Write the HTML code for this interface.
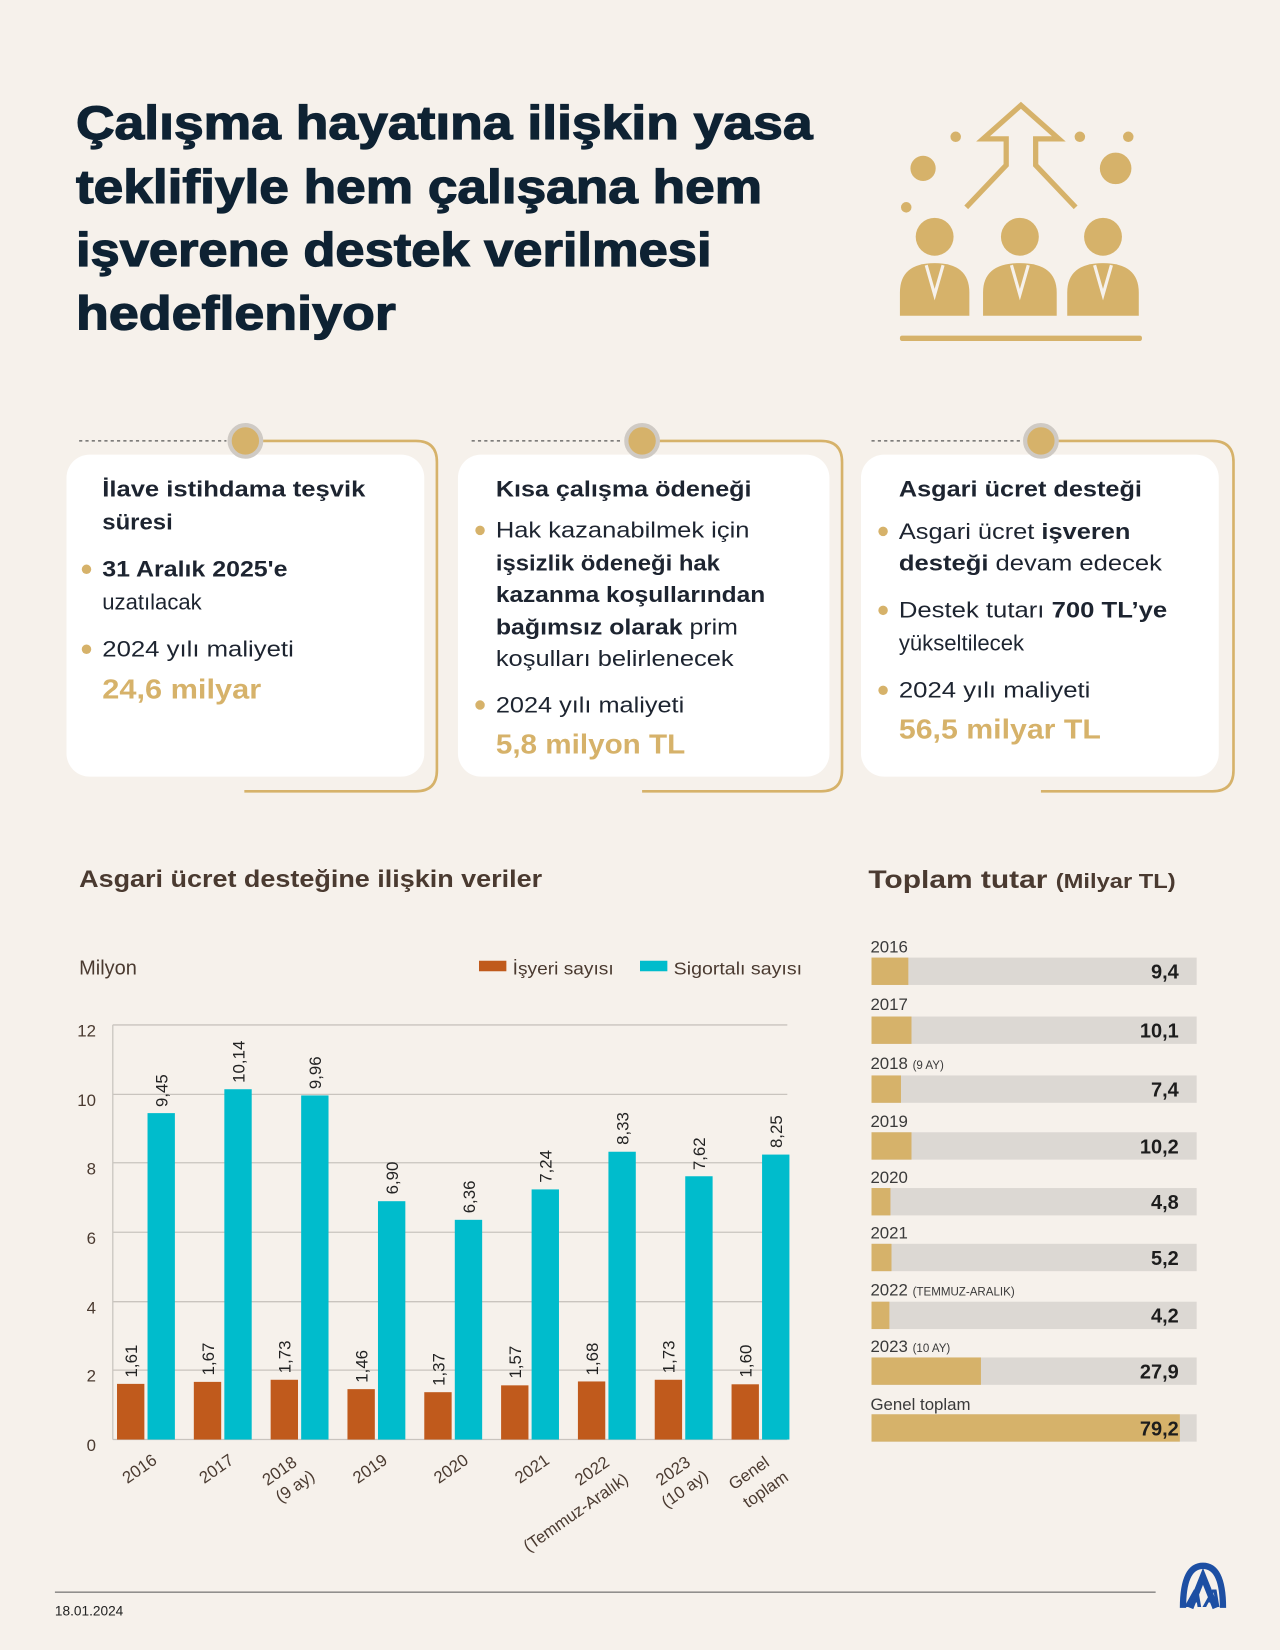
<!DOCTYPE html>
<html><head><meta charset="utf-8"><style>
html,body{margin:0;padding:0;background:#f6f1eb}
svg{display:block}
text{font-family:"Liberation Sans",sans-serif}
</style></head><body>
<svg width="1280" height="1650" viewBox="0 0 1216 1568" xmlns="http://www.w3.org/2000/svg">
<rect width="1216" height="1568" fill="#f6f1eb"/>
<g font-weight="bold" font-size="45" fill="#0e2233" stroke="#0e2233" stroke-width="1.2" lengthAdjust="spacingAndGlyphs">
<text x="72" y="132" textLength="700" lengthAdjust="spacingAndGlyphs">Çalışma hayatına ilişkin yasa</text>
<text x="72" y="193" textLength="652" lengthAdjust="spacingAndGlyphs">teklifiyle hem çalışana hem</text>
<text x="72" y="253" textLength="604" lengthAdjust="spacingAndGlyphs">işverene destek verilmesi</text>
<text x="72" y="313" textLength="304" lengthAdjust="spacingAndGlyphs">hedefleniyor</text>
</g>
<!-- icon -->
<g fill="#d6b26a" stroke="none">
<circle cx="877" cy="160" r="12"/><circle cx="1060" cy="160" r="15"/>
<circle cx="908" cy="130" r="5"/><circle cx="1026" cy="130" r="5"/><circle cx="1072" cy="130" r="5"/><circle cx="861" cy="197" r="5"/>
<circle cx="888" cy="225" r="18"/><circle cx="969" cy="225" r="18"/><circle cx="1048" cy="225" r="18"/>
<path d="M855 300 v-22 q0-28 33-28 q33 0 33 28 v22z"/>
<path d="M934 300 v-22 q0-28 35-28 q35 0 35 28 v22z"/>
<path d="M1014 300 v-22 q0-28 34-28 q34 0 34 28 v22z"/>
<rect x="855" y="319" width="230" height="5" rx="2"/>
</g>
<g fill="none" stroke="#f6f1eb" stroke-width="3"><path d="M880 252 l8 28 l8-28 M961 252 l8 28 l8-28 M1040 252 l8 28 l8-28"/></g>
<path d="M918 197 l38-40 v-25 h-22 l36-32 l36 32 h-22 v25 l38 40" fill="none" stroke="#d6b26a" stroke-width="5"/>
<!-- cards -->
<g>
<g fill="none" stroke="#d6b26a" stroke-width="2.5">
<path d="M233 419 H395 Q415 419 415 439 V732 Q415 752 395 752 H232"/>
<path d="M610 419 H780 Q800 419 800 439 V732 Q800 752 780 752 H610"/>
<path d="M989 419 H1152 Q1172 419 1172 439 V732 Q1172 752 1152 752 H989"/>
</g>
<g stroke="#555" stroke-width="1.2" stroke-dasharray="3 3"><line x1="75" y1="419" x2="215" y2="419"/><line x1="448" y1="419" x2="592" y2="419"/><line x1="828" y1="419" x2="971" y2="419"/></g>
<rect x="63" y="432" width="340" height="306" rx="22" fill="#fff"/>
<rect x="435" y="432" width="353" height="306" rx="22" fill="#fff"/>
<rect x="818" y="432" width="340" height="306" rx="22" fill="#fff"/>
<g fill="#d6b26a" stroke="#cfcac4" stroke-width="4"><circle cx="233" cy="419" r="15"/><circle cx="610" cy="419" r="15"/><circle cx="989" cy="419" r="15"/></g>
</g>
<g font-size="21" fill="#1d2430">
<text x="97" y="472" font-weight="bold" textLength="250" lengthAdjust="spacingAndGlyphs">İlave istihdama teşvik</text>
<text x="97" y="503" font-weight="bold" textLength="67" lengthAdjust="spacingAndGlyphs">süresi</text>
<text x="97" y="548" font-weight="bold" textLength="176" lengthAdjust="spacingAndGlyphs">31 Aralık 2025'e</text>
<text x="97" y="579">uzatılacak</text>
<text x="97" y="624" textLength="182" lengthAdjust="spacingAndGlyphs">2024 yılı maliyeti</text>
<text x="97" y="664" font-weight="bold" font-size="26" fill="#d6b26a" textLength="151" lengthAdjust="spacingAndGlyphs">24,6 milyar</text>
<text x="471" y="472" font-weight="bold" textLength="243" lengthAdjust="spacingAndGlyphs">Kısa çalışma ödeneği</text>
<text x="471" y="511" textLength="241" lengthAdjust="spacingAndGlyphs">Hak kazanabilmek için</text>
<text x="471" y="542" font-weight="bold" textLength="213" lengthAdjust="spacingAndGlyphs">işsizlik ödeneği hak</text>
<text x="471" y="572" font-weight="bold" textLength="256" lengthAdjust="spacingAndGlyphs">kazanma koşullarından</text>
<text x="471" y="603" textLength="230" lengthAdjust="spacingAndGlyphs"><tspan font-weight="bold">bağımsız olarak</tspan> prim</text>
<text x="471" y="633" textLength="226" lengthAdjust="spacingAndGlyphs">koşulları belirlenecek</text>
<text x="471" y="677" textLength="179" lengthAdjust="spacingAndGlyphs">2024 yılı maliyeti</text>
<text x="471" y="716" font-weight="bold" font-size="26" fill="#d6b26a" textLength="180" lengthAdjust="spacingAndGlyphs">5,8 milyon TL</text>
<text x="854" y="472" font-weight="bold" textLength="231" lengthAdjust="spacingAndGlyphs">Asgari ücret desteği</text>
<text x="854" y="512" textLength="220" lengthAdjust="spacingAndGlyphs">Asgari ücret <tspan font-weight="bold">işveren</tspan></text>
<text x="854" y="542" textLength="250" lengthAdjust="spacingAndGlyphs"><tspan font-weight="bold">desteği</tspan> devam edecek</text>
<text x="854" y="587" textLength="255" lengthAdjust="spacingAndGlyphs">Destek tutarı <tspan font-weight="bold">700 TL’ye</tspan></text>
<text x="854" y="618">yükseltilecek</text>
<text x="854" y="663" textLength="182" lengthAdjust="spacingAndGlyphs">2024 yılı maliyeti</text>
<text x="854" y="702" font-weight="bold" font-size="26" fill="#d6b26a" textLength="192" lengthAdjust="spacingAndGlyphs">56,5 milyar TL</text>
</g>
<g fill="#d6b26a"><circle cx="82" cy="541" r="4.5"/><circle cx="82" cy="617" r="4.5"/><circle cx="456" cy="504" r="4.5"/><circle cx="456" cy="670" r="4.5"/><circle cx="839" cy="505" r="4.5"/><circle cx="839" cy="580" r="4.5"/><circle cx="839" cy="656" r="4.5"/></g>
<!-- chart -->
<text x="75" y="843" font-size="23" font-weight="bold" fill="#4a3a30" textLength="440" lengthAdjust="spacingAndGlyphs">Asgari ücret desteğine ilişkin veriler</text>
<text x="75" y="926" font-size="19" fill="#4a3a30">Milyon</text>
<rect x="455" y="913" width="26" height="10" fill="#c05a1c"/><text x="487" y="926" font-size="17" fill="#4a3a30" textLength="96" lengthAdjust="spacingAndGlyphs">İşyeri sayısı</text>
<rect x="608" y="913" width="26" height="10" fill="#00bccc"/><text x="640" y="926" font-size="17" fill="#4a3a30" textLength="122" lengthAdjust="spacingAndGlyphs">Sigortalı sayısı</text>
<g stroke="#c9c4be" stroke-width="1.2">
<line x1="107" y1="974" x2="748" y2="974"/><line x1="107" y1="1040" x2="748" y2="1040"/><line x1="107" y1="1105" x2="748" y2="1105"/><line x1="107" y1="1171" x2="748" y2="1171"/><line x1="107" y1="1237" x2="748" y2="1237"/><line x1="107" y1="1302" x2="748" y2="1302"/><line x1="107" y1="1368" x2="748" y2="1368"/><line x1="107" y1="974" x2="107" y2="1368"/>
</g>
<g font-size="16" fill="#4a3a30" text-anchor="end">
<text x="91" y="985">12</text><text x="91" y="1051">10</text><text x="91" y="1116">8</text><text x="91" y="1182">6</text><text x="91" y="1248">4</text><text x="91" y="1313">2</text><text x="91" y="1379">0</text>
</g>
<g fill="#c05a1c">
<rect x="111" y="1315.1" width="26" height="52.9"/><rect x="184" y="1313.2" width="26" height="54.8"/><rect x="257" y="1311.2" width="26" height="56.8"/><rect x="330" y="1320.1" width="26" height="47.9"/><rect x="403" y="1323" width="26" height="45"/><rect x="476" y="1316.5" width="26" height="51.5"/><rect x="549" y="1312.8" width="26" height="55.2"/><rect x="622" y="1311.2" width="26" height="56.8"/><rect x="695" y="1315.5" width="26" height="52.5"/>
</g>
<g fill="#00bccc">
<rect x="140" y="1057.8" width="26" height="310.2"/><rect x="213" y="1035.1" width="26" height="332.9"/><rect x="286" y="1041" width="26" height="327"/><rect x="359" y="1141.5" width="26" height="226.5"/><rect x="432" y="1159.2" width="26" height="208.8"/><rect x="505" y="1130.3" width="26" height="237.7"/><rect x="578" y="1094.5" width="26" height="273.5"/><rect x="651" y="1117.8" width="26" height="250.2"/><rect x="724" y="1097.2" width="26" height="270.8"/>
</g>
<g font-size="16" fill="#222">
<text transform="translate(130,1309) rotate(-90)">1,61</text><text transform="translate(203,1307) rotate(-90)">1,67</text><text transform="translate(276,1305) rotate(-90)">1,73</text><text transform="translate(349,1314) rotate(-90)">1,46</text><text transform="translate(422,1317) rotate(-90)">1,37</text><text transform="translate(495,1310) rotate(-90)">1,57</text><text transform="translate(568,1307) rotate(-90)">1,68</text><text transform="translate(641,1305) rotate(-90)">1,73</text><text transform="translate(714,1309) rotate(-90)">1,60</text>
<text transform="translate(159,1052) rotate(-90)">9,45</text><text transform="translate(232,1029) rotate(-90)">10,14</text><text transform="translate(305,1035) rotate(-90)">9,96</text><text transform="translate(378,1135) rotate(-90)">6,90</text><text transform="translate(451,1153) rotate(-90)">6,36</text><text transform="translate(524,1124) rotate(-90)">7,24</text><text transform="translate(597,1088) rotate(-90)">8,33</text><text transform="translate(670,1112) rotate(-90)">7,62</text><text transform="translate(743,1091) rotate(-90)">8,25</text>
</g>
<g font-size="16" fill="#4a3a30" text-anchor="end">
<text transform="translate(150,1390) rotate(-35)">2016</text>
<text transform="translate(223,1390) rotate(-35)">2017</text>
<text transform="translate(283,1392) rotate(-35)">2018</text><text transform="translate(300,1405) rotate(-35)">(9 ay)</text>
<text transform="translate(369,1390) rotate(-35)">2019</text>
<text transform="translate(446,1390) rotate(-35)">2020</text>
<text transform="translate(523,1390) rotate(-35)">2021</text>
<text transform="translate(580,1392) rotate(-35)">2022</text><text transform="translate(598,1408) rotate(-35)">(Temmuz-Aralık)</text>
<text transform="translate(657,1392) rotate(-35)">2023</text><text transform="translate(674,1405) rotate(-35)">(10 ay)</text>
<text transform="translate(732,1392) rotate(-35)">Genel</text><text transform="translate(750,1406) rotate(-35)">toplam</text>
</g>
<!-- right bars -->
<text x="825" y="844" font-size="24" font-weight="bold" fill="#4a3a30" textLength="292" lengthAdjust="spacingAndGlyphs">Toplam tutar <tspan font-size="19">(Milyar TL)</tspan></text>
<g font-size="16" fill="#3a3a3a">
<text x="827" y="905">2016</text><text x="827" y="960">2017</text><text x="827" y="1016">2018 <tspan font-size="11">(9 AY)</tspan></text><text x="827" y="1071">2019</text><text x="827" y="1124">2020</text><text x="827" y="1177">2021</text><text x="827" y="1231">2022 <tspan font-size="11">(TEMMUZ-ARALIK)</tspan></text><text x="827" y="1285">2023 <tspan font-size="11">(10 AY)</tspan></text><text x="827" y="1340">Genel toplam</text>
</g>
<g fill="#dcd8d3">
<rect x="828" y="910" width="309" height="26"/><rect x="828" y="966" width="309" height="26"/><rect x="828" y="1022" width="309" height="26"/><rect x="828" y="1076" width="309" height="26"/><rect x="828" y="1129" width="309" height="26"/><rect x="828" y="1182" width="309" height="26"/><rect x="828" y="1237" width="309" height="26"/><rect x="828" y="1290" width="309" height="26"/><rect x="828" y="1344" width="309" height="26"/>
</g>
<g fill="#d6b26a">
<rect x="828" y="910" width="35" height="26"/><rect x="828" y="966" width="38" height="26"/><rect x="828" y="1022" width="28" height="26"/><rect x="828" y="1076" width="38" height="26"/><rect x="828" y="1129" width="18" height="26"/><rect x="828" y="1182" width="19" height="26"/><rect x="828" y="1237" width="17" height="26"/><rect x="828" y="1290" width="104" height="26"/><rect x="828" y="1344" width="293" height="26"/>
</g>
<g font-size="19" font-weight="bold" fill="#1d1d1d" text-anchor="end">
<text x="1120" y="930">9,4</text><text x="1120" y="986">10,1</text><text x="1120" y="1042">7,4</text><text x="1120" y="1096">10,2</text><text x="1120" y="1149">4,8</text><text x="1120" y="1202">5,2</text><text x="1120" y="1257">4,2</text><text x="1120" y="1310">27,9</text><text x="1120" y="1364">79,2</text>
</g>
<!-- footer -->
<line x1="52" y1="1513" x2="1098" y2="1513" stroke="#555" stroke-width="1"/>
<text x="52" y="1535" font-size="13" fill="#222">18.01.2024</text>
<g fill="none" stroke="#1d4fa3" stroke-width="6"><path d="M1124 1528 q0-40 19-40 q19 0 19 40"/><path d="M1131 1528 l12-30 l12 30"/></g>
<text x="1143" y="1527" font-size="24" font-weight="bold" fill="#1d4fa3" text-anchor="middle" font-style="italic">AA</text>
</svg>
</body></html>
